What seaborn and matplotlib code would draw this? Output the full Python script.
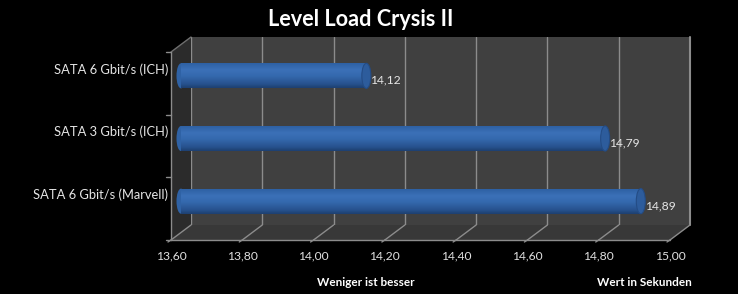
import numpy as np
import pandas as pd
import matplotlib
matplotlib.use("Agg")
import matplotlib.pyplot as plt
import seaborn as sns
from matplotlib.patches import Polygon, Ellipse
from matplotlib.transforms import Affine2D, ScaledTranslation
from matplotlib.colors import LinearSegmentedColormap

# ---- data ----
categories = ["SATA 6 Gbit/s (ICH)", "SATA 3 Gbit/s (ICH)", "SATA 6 Gbit/s (Marvell)"]
values = [14.12, 14.79, 14.89]
x_ticks = [13.60, 13.80, 14.00, 14.20, 14.40, 14.60, 14.80, 15.00]
title = "Level Load Crysis II"
xlabel_center = "Weniger ist besser"
xlabel_right = "Wert in Sekunden"

BASE = x_ticks[0]
W, H, DPI = 738, 294, 100

sns.set_theme(style="dark")
plt.rcParams["font.family"] = ["Lato", "DejaVu Sans"]

fig = plt.figure(figsize=(W / DPI, H / DPI), dpi=DPI, facecolor="black")

# back-wall plane of the pseudo-3D chart (pixel layout)
bx0, bx1, by0, by1 = 191, 690, 37, 225
DX, DY = -20, 15  # front offset relative to back wall
ax = fig.add_axes([bx0 / W, 1 - by1 / H, (bx1 - bx0) / W, (by1 - by0) / H])
ax.set_facecolor("#404040")

df = pd.DataFrame({"cat": categories, "val": [v - BASE for v in values]})
sns.barplot(data=df, y="cat", x="val", orient="h", color="#3163a6",
            width=0.4, ax=ax, saturation=1, zorder=3, linewidth=0, edgecolor="none")
ax.set_xlim(0, x_ticks[-1] - BASE)
ax.set_ylim(2.5, -0.5)
ax.set_xticks([t - BASE for t in x_ticks])
ax.set_xlabel("")
ax.set_ylabel("")
ax.tick_params(axis="x", labelbottom=False, length=0)
ax.tick_params(axis="y", length=0, pad=16.5, labelsize=9.3, labelcolor="#e6e6e6")
ax.grid(axis="x", color="#8c8c8c", lw=1.0, zorder=1)
ax.grid(axis="y", visible=False)
for s in ax.spines.values():
    s.set_visible(False)

# pixel transform (from top-left)
T = Affine2D().scale(1, -1).translate(0, H)

def poly(pts, **kw):
    p = Polygon(pts, closed=True, transform=T, **kw)
    fig.add_artist(p)
    return p

# left side wall
poly([(bx0 + DX, by0 + DY), (bx0, by0), (bx0, by1), (bx0 + DX, by1 + DY)],
     facecolor="#2b2b2b", edgecolor="none", zorder=0)
# floor
poly([(bx0, by1), (bx1, by1), (bx1 + DX, by1 + DY), (bx0 + DX, by1 + DY)],
     facecolor="#383838", edgecolor="none", zorder=0)

def line(xs, ys, c="#8c8c8c", lw=1.0, z=1):
    fig.add_artist(plt.Line2D(xs, ys, transform=T, color=c, lw=lw, zorder=z))

line([bx1, bx1], [by0, by1], c="#8c8c8c", lw=1.5)
line([bx0 + DX, bx0], [by0 + DY, by0], c="#6e6e6e")
line([bx0 + DX, bx0 + DX], [by0 + DY, by1 + DY], c="#8c8c8c")
line([bx0 + DX, bx1 + DX], [by1 + DY, by1 + DY], c="#8c8c8c")
ncat = len(categories)
for i in range(ncat + 1):
    yy = by0 + DY + i * (by1 - by0) / ncat
    line([bx0 + DX - 5, bx0 + DX], [yy, yy], c="#8c8c8c")

# floor grid lines and front tick labels
for t in x_ticks:
    xb, _ = ax.transData.transform((t - BASE, 0))
    line([xb, xb + DX], [by1, by1 + DY], c="#8c8c8c", z=1)
    line([xb + DX, xb + DX - 3], [by1 + DY, by1 + DY + 2], c="#8c8c8c", z=1)
    fig.text(xb + DX, H - 256, f"{t:.2f}".replace(".", ","),
             transform=Affine2D(), ha="center", va="center",
             fontsize=8.7, color="#e0e0e0")

# cylinder styling of bars (mid-depth)
off = ScaledTranslation(DX / 2 / DPI, -DY / 2 / DPI, fig.dpi_scale_trans)
tr = ax.transData + off
cmap = LinearSegmentedColormap.from_list(
    "cyl", [(0, "#2c5ea0"), (0.3, "#3b71b8"), (0.55, "#3468ad"), (0.85, "#27528e"), (1, "#1d3f70")])
grad = np.linspace(0, 1, 64).reshape(-1, 1)
px_per_x = (bx1 - bx0) / (x_ticks[-1] - BASE)
cap_w = 9 / px_per_x
for p, v in zip(ax.patches, values):
    p.set_transform(tr)
    p.set_clip_on(False)
    x0, y0 = p.get_x(), p.get_y()
    w, h = p.get_width(), p.get_height()
    le = Ellipse((x0, y0 + h / 2), cap_w, h, transform=tr, facecolor="#2f62a5",
                 edgecolor="none", zorder=2.5, clip_on=False)
    ax.add_patch(le)
    im = ax.imshow(grad, cmap=cmap, aspect="auto", extent=(x0, x0 + w, y0 + h, y0),
                   transform=tr, zorder=3.1, interpolation="bicubic")
    im.set_clip_path(p)
    re = Ellipse((x0 + w, y0 + h / 2), cap_w, h, transform=tr, facecolor="#2d5c9c",
                 edgecolor="#244c85", lw=0.8, zorder=3.5, clip_on=False)
    ax.add_patch(re)
    lab_tr = tr + ScaledTranslation(4 / DPI, -4.5 / DPI, fig.dpi_scale_trans)
    ax.text(x0 + w, y0 + h / 2, f"{v:.2f}".replace(".", ","), transform=lab_tr,
            ha="left", va="center", fontsize=8.7, color="#e6e6e6", zorder=4, clip_on=False)

ax.set_xlim(0, x_ticks[-1] - BASE)

fig.text(361 / W, 1 - 19 / H, title, ha="center", va="center",
         fontsize=15.6, fontweight="bold", color="white")
fig.text(366 / W, 1 - 283 / H, xlabel_center, ha="center", va="center",
         fontsize=8.5, fontweight="bold", color="white")
fig.text(692 / W, 1 - 283 / H, xlabel_right, ha="right", va="center",
         fontsize=8.5, fontweight="bold", color="white")

fig.savefig("out.png", dpi=DPI, facecolor="black")
